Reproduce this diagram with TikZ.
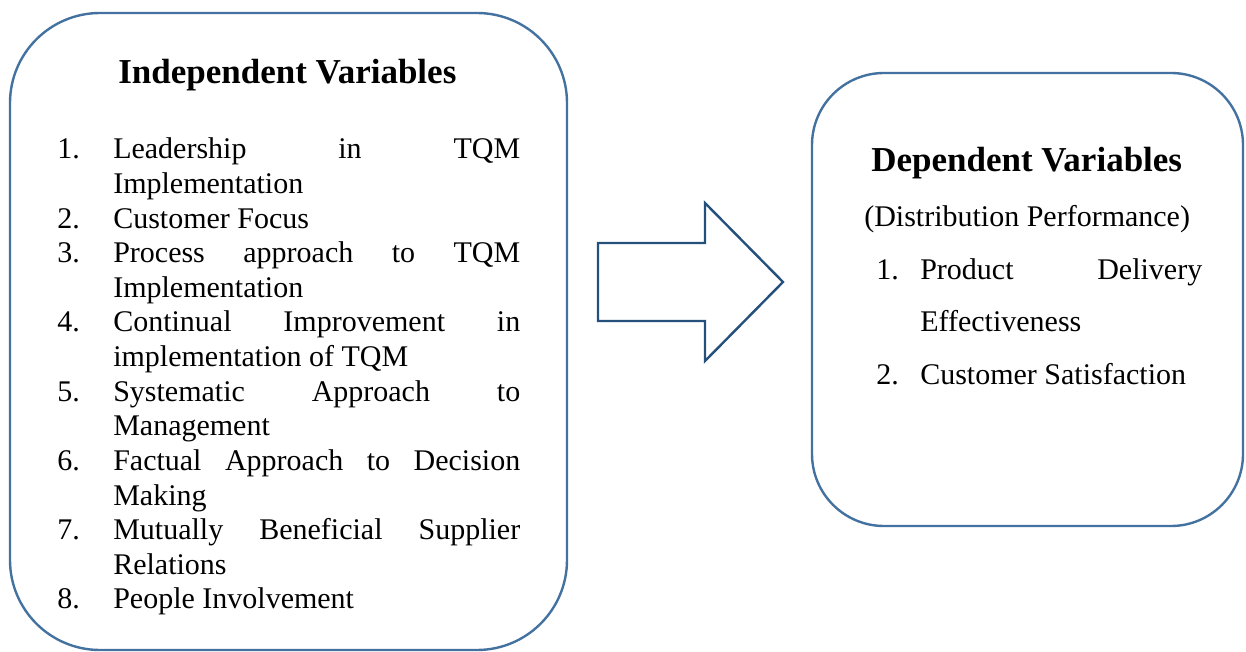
\documentclass[tikz,border=0pt]{standalone}
\usepackage{fontspec}
\setmainfont{Liberation Serif}
\definecolor{boxblue}{RGB}{68,114,160}
\definecolor{arrowblue}{RGB}{38,80,124}
\tikzset{
  panel/.style={draw=boxblue, line width=1.8pt, rounded corners=#1, inner sep=0pt},
  heading/.style={inner sep=0pt, anchor=base west, font=\fontsize{26.25pt}{30pt}\selectfont\bfseries},
  txt/.style={inner sep=0pt, anchor=base west, font=\fontsize{22.5pt}{26pt}\selectfont},
  blockarrow/.style={draw=arrowblue, line width=1.8pt, fill=white, line join=miter}
}
% justified line of a list item
\newcommand{\jline}[2]{\makebox[#1][l]{#2}}
\begin{document}
\begin{tikzpicture}[x=0.75pt,y=-0.75pt]
  \useasboundingbox (0,0) rectangle (1246,652);

  % left panel: independent variables
  \node[panel=67.5pt, minimum width=417.75pt, minimum height=477.75pt] (indep) at (288.5,331.5) {};
  \node[heading] (indeptitle) at (118,84) {Independent Variables};

  \foreach \num/\k in {1/0,2/2,3/3,4/5,5/7,6/9,7/11,8/13}{
    \node[txt] (n\num) at (57,159+34.6*\k) {\num.};
  }
  \node[txt] (l0)  at (113,159+34.6*0)  {\jline{305.25pt}{Leadership\hfill in\hfill TQM}};
  \node[txt] (l1)  at (113,159+34.6*1)  {Implementation};
  \node[txt] (l2)  at (113,159+34.6*2)  {Customer Focus};
  \node[txt] (l3)  at (113,159+34.6*3)  {\jline{305.25pt}{Process\hfill approach\hfill to\hfill TQM}};
  \node[txt] (l4)  at (113,159+34.6*4)  {Implementation};
  \node[txt] (l5)  at (113,159+34.6*5)  {\jline{305.25pt}{Continual\hfill Improvement\hfill in}};
  \node[txt] (l6)  at (113,159+34.6*6)  {implementation of TQM};
  \node[txt] (l7)  at (113,159+34.6*7)  {\jline{305.25pt}{Systematic\hfill Approach\hfill to}};
  \node[txt] (l8)  at (113,159+34.6*8)  {Management};
  \node[txt] (l9)  at (113,159+34.6*9)  {\jline{305.25pt}{Factual\hfill Approach\hfill to\hfill Decision}};
  \node[txt] (l10) at (113,159+34.6*10) {Making};
  \node[txt] (l11) at (113,159+34.6*11) {\jline{305.25pt}{Mutually\hfill Beneficial\hfill Supplier}};
  \node[txt] (l12) at (113,159+34.6*12) {Relations};
  \node[txt] (l13) at (113,159+34.6*13) {People Involvement};

  % block arrow between the panels
  \draw[blockarrow] (598,243) -- (705,243) -- (705,203) -- (783,282)
    -- (705,361) -- (705,321) -- (598,321) -- cycle;

  % right panel: dependent variables
  \node[panel=54pt, minimum width=323.25pt, minimum height=339.75pt] (dep) at (1027.5,299.5) {};
  \node[heading] (deptitle) at (871,172) {Dependent Variables};
  \node[txt] (sub) at (864,227) {(Distribution Performance)};
  \node[txt] (m1) at (876,280) {1.};
  \node[txt] (d1) at (920,280) {\jline{211.5pt}{Product\hfill Delivery}};
  \node[txt] (d2) at (920,332) {Effectiveness};
  \node[txt] (m2) at (876,384) {2.};
  \node[txt] (d3) at (920,384) {Customer Satisfaction};
\end{tikzpicture}
\end{document}
